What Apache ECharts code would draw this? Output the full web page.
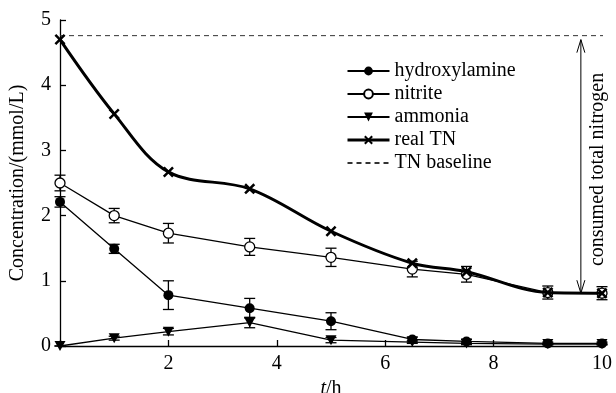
<!DOCTYPE html>
<html>
<head>
<meta charset="utf-8">
<script src="https://cdn.jsdelivr.net/npm/echarts@6/dist/echarts.min.js"></script>
<style>
  html, body { margin: 0; padding: 0; background: #fff; }
  #chart { width: 616px; height: 393px; }
</style>
</head>
<body>
<div id="chart"></div>
<script>
// sampling times (h) and measured concentrations (mmol/L)
const times = [0, 1, 2, 3.5, 5, 6.5, 7.5, 9, 10];
const hydroxylamine = [2.21, 1.49, 0.78, 0.58, 0.38, 0.10, 0.07, 0.04, 0.04];
const hydroxylamineErr = [0.08, 0.07, 0.22, 0.15, 0.13, 0.04, 0.03, 0.02, 0.02];
const nitrite = [2.50, 2.00, 1.73, 1.52, 1.36, 1.18, 1.10, 0.82, 0.81];
const nitriteErr = [0.12, 0.11, 0.15, 0.13, 0.14, 0.12, 0.12, 0.10, 0.10];
const ammonia = [0.00, 0.12, 0.22, 0.36, 0.09, 0.06, 0.04, 0.03, 0.03];
const ammoniaErr = [0, 0.03, 0.05, 0.08, 0.04, 0.02, 0.02, 0.01, 0.01];
const realTN = [4.70, 3.56, 2.67, 2.41, 1.76, 1.27, 1.14, 0.82, 0.81];
const tnBaseline = 4.76;
const arrowAt = 9.61;
const seriesNames = ['hydroxylamine', 'nitrite', 'ammonia', 'real TN', 'TN baseline'];

const FONT = '"Liberation Serif", "Times New Roman", serif';
const INK = '#000';
const FS = 20;

const chart = echarts.init(document.getElementById('chart'), null, { renderer: 'canvas' });

const pairs = vals => times.map((t, i) => [t, vals[i]]);
const errData = (vals, errs) => times.map((t, i) => [t, vals[i] - errs[i], vals[i] + errs[i]]);

function renderErr(params, api) {
    const lo = api.coord([api.value(0), api.value(1)]);
    const hi = api.coord([api.value(0), api.value(2)]);
    const half = 5.5;
    const style = { stroke: INK, lineWidth: 1.3, fill: null };
    return {
        type: 'group',
        children: [
            { type: 'line', shape: { x1: lo[0], y1: lo[1], x2: hi[0], y2: hi[1] }, style },
            { type: 'line', shape: { x1: lo[0] - half, y1: lo[1], x2: lo[0] + half, y2: lo[1] }, style },
            { type: 'line', shape: { x1: hi[0] - half, y1: hi[1], x2: hi[0] + half, y2: hi[1] }, style }
        ]
    };
}

function renderArrow(params, api) {
    const top = api.coord([api.value(0), api.value(1)]);
    const bot = api.coord([api.value(0), api.value(2)]);
    const style = { stroke: INK, lineWidth: 1, fill: null };
    const w = 4, h = 13;
    return {
        type: 'group',
        children: [
            { type: 'line', shape: { x1: top[0], y1: top[1] + 4, x2: bot[0], y2: bot[1] }, style },
            { type: 'polyline', shape: { points: [[top[0] - w, top[1] + 4 + h], [top[0], top[1] + 4], [top[0] + w, top[1] + 4 + h]] }, style },
            { type: 'polyline', shape: { points: [[bot[0] - w, bot[1] - h], [bot[0], bot[1]], [bot[0] + w, bot[1] - h]] }, style },
            {
                type: 'text',
                x: top[0] + 17,
                y: (top[1] + bot[1]) / 2 + 5,
                rotation: Math.PI / 2,
                style: {
                    text: 'consumed total nitrogen',
                    font: FS + 'px ' + FONT,
                    fill: INK,
                    align: 'center',
                    verticalAlign: 'middle'
                }
            }
        ]
    };
}

const crossPath = 'path://M0,1.6 L1.6,0 L5,3.4 L8.4,0 L10,1.6 L6.6,5 L10,8.4 L8.4,10 L5,6.6 L1.6,10 L0,8.4 L3.4,5 Z';

const option = {
    backgroundColor: '#fff',
    animation: false,
    textStyle: { fontFamily: FONT, color: INK },
    grid: { left: 60, right: 14, top: 20, bottom: 47, outerBoundsMode: 'none', containLabel: false },
    legend: {
        data: [
            { name: seriesNames[0] },
            { name: seriesNames[1] },
            { name: seriesNames[2] },
            { name: seriesNames[3], lineStyle: { width: 3 } },
            { name: seriesNames[4], itemStyle: { color: 'rgba(0,0,0,0)', borderWidth: 0 }, lineStyle: { type: [5, 4], color: '#333' } }
        ],
        orient: 'vertical',
        left: 341,
        top: 56,
        itemWidth: 42,
        itemHeight: 11,
        itemGap: 3,
        textStyle: { fontFamily: FONT, fontSize: FS, color: INK }
    },
    xAxis: {
        type: 'value',
        min: 0,
        max: 10,
        interval: 2,
        name: '{i|t}/h',
        nameLocation: 'middle',
        nameGap: 27,
        nameTextStyle: {
            fontFamily: FONT, fontSize: FS, color: INK,
            rich: { i: { fontStyle: 'italic', fontFamily: FONT, fontSize: FS } }
        },
        axisLine: { onZero: false, lineStyle: { color: INK, width: 1.3 } },
        axisTick: { inside: true, length: 6, lineStyle: { color: INK, width: 1.3 } },
        axisLabel: {
            fontFamily: FONT, fontSize: FS, color: INK, margin: 8,
            formatter: v => (v === 0 ? '' : String(v))
        },
        splitLine: { show: false }
    },
    yAxis: {
        type: 'value',
        min: 0,
        max: 5,
        interval: 1,
        name: 'Concentration/(mmol/L)',
        nameLocation: 'middle',
        nameGap: 32,
        nameTextStyle: { fontFamily: FONT, fontSize: FS, color: INK },
        axisLine: { show: true, lineStyle: { color: INK, width: 1.3 } },
        axisTick: { show: true, inside: true, length: 6, lineStyle: { color: INK, width: 1.3 } },
        axisLabel: { fontFamily: FONT, fontSize: FS, color: INK, margin: 9 },
        splitLine: { show: false }
    },
    series: [
        {
            name: 'hydroxylamine',
            type: 'line',
            data: pairs(hydroxylamine),
            symbol: 'circle',
            symbolSize: 10,
            z: 4,
            lineStyle: { color: INK, width: 1.3 },
            itemStyle: { color: INK }
        },
        {
            name: 'nitrite',
            type: 'line',
            data: pairs(nitrite),
            symbol: 'circle',
            symbolSize: 10,
            z: 4,
            lineStyle: { color: INK, width: 1.3 },
            itemStyle: { color: '#fff', borderColor: INK, borderWidth: 1.3 }
        },
        {
            name: 'ammonia',
            type: 'line',
            data: pairs(ammonia),
            symbol: 'triangle',
            symbolRotate: 180,
            symbolSize: [11, 10],
            z: 4,
            lineStyle: { color: INK, width: 1.3 },
            itemStyle: { color: INK }
        },
        {
            name: 'real TN',
            type: 'line',
            data: pairs(realTN),
            smooth: 0.35,
            symbol: crossPath,
            symbolSize: 11,
            z: 5,
            lineStyle: { color: INK, width: 3 },
            itemStyle: { color: INK }
        },
        {
            name: 'TN baseline',
            type: 'line',
            data: [[0, tnBaseline], [10.26, tnBaseline]],
            symbol: 'none',
            clip: false,
            lineStyle: { color: '#333', width: 1, type: [5, 4] },
            itemStyle: { color: '#333' }
        },
        { type: 'custom', renderItem: renderErr, data: errData(hydroxylamine, hydroxylamineErr), z: 3 },
        { type: 'custom', renderItem: renderErr, data: errData(nitrite, nitriteErr), z: 3 },
        { type: 'custom', renderItem: renderErr, data: errData(ammonia, ammoniaErr), z: 3 },
        {
            type: 'custom',
            renderItem: renderArrow,
            data: [[arrowAt, tnBaseline, realTN[realTN.length - 1]]],
            clip: false,
            z: 2
        }
    ]
};

chart.setOption(option);
window.addEventListener('resize', () => chart.resize());
</script>
</body>
</html>
